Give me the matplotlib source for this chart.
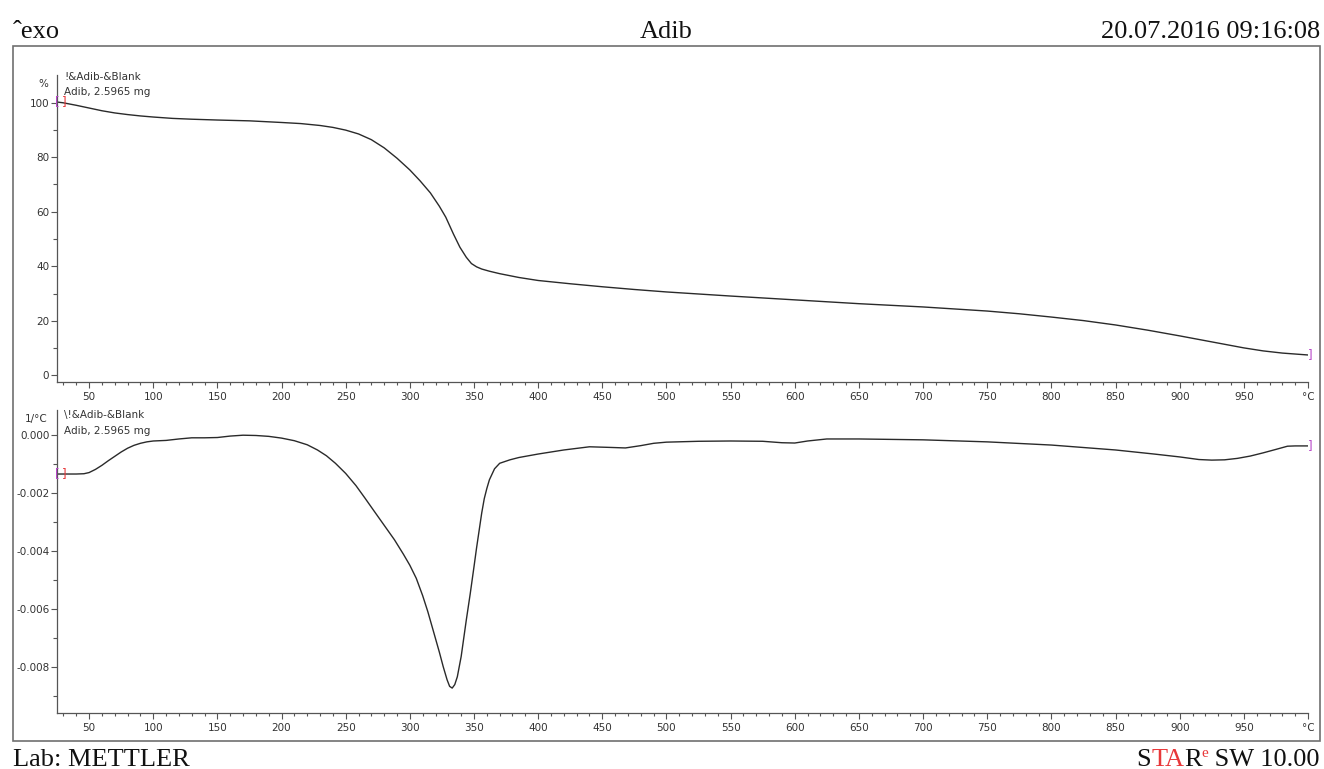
import matplotlib
matplotlib.use("Agg")
import matplotlib.pyplot as plt
from matplotlib.patches import Rectangle
from matplotlib.ticker import FixedLocator, FixedFormatter

# ---------------- data ----------------
tga_temp = [25, 30, 40, 50, 60, 70, 80, 90, 100, 115, 130, 150, 175, 200, 215, 230,
            240, 250, 260, 270, 280, 290, 300, 308, 316, 323, 328, 334, 339, 344,
            348, 352, 356, 362, 370, 385, 400, 425, 450, 475, 500, 550, 600, 650,
            700, 750, 775, 800, 825, 850, 875, 900, 925, 950, 965, 980, 1000]
tga_mass = [100.2, 99.9, 99.0, 98.0, 97.0, 96.2, 95.6, 95.1, 94.7, 94.2, 93.9, 93.6,
            93.3, 92.7, 92.3, 91.6, 90.9, 89.9, 88.5, 86.4, 83.4, 79.6, 75.3, 71.3,
            66.9, 62.0, 58.0, 51.8, 47.0, 43.3, 41.0, 39.8, 39.0, 38.2, 37.3, 35.9,
            34.8, 33.6, 32.5, 31.5, 30.6, 29.1, 27.7, 26.3, 25.1, 23.6, 22.6, 21.4,
            20.1, 18.5, 16.6, 14.5, 12.3, 10.1, 9.0, 8.2, 7.5]

dtg_temp = [25, 40, 46, 50, 55, 60, 65, 70, 75, 80, 85, 90, 95, 100, 110, 120, 130,
            140, 150, 160, 170, 180, 190, 200, 210, 220, 228, 235, 242, 250, 258,
            265, 272, 280, 288, 295, 300, 305, 310, 314, 318, 323, 326, 329, 331,
            333, 335, 337, 340, 344, 347, 350, 352, 354, 356, 358, 360, 362, 366,
            370, 378, 385, 400, 420, 440, 455, 468, 480, 490, 500, 525, 550, 575,
            590, 600, 610, 625, 650, 700, 750, 800, 850, 880, 900, 915, 925, 935,
            945, 955, 965, 975, 984, 990, 1000]
dtg_rate_milli = [-1.35, -1.35, -1.34, -1.30, -1.19, -1.05, -0.89, -0.74, -0.59, -0.46,
                  -0.36, -0.29, -0.24, -0.21, -0.19, -0.14, -0.10, -0.10, -0.09, -0.04,
                  -0.01, -0.02, -0.05, -0.11, -0.20, -0.34, -0.52, -0.72, -0.98, -1.33,
                  -1.75, -2.18, -2.62, -3.12, -3.62, -4.12, -4.50, -4.95, -5.55, -6.10,
                  -6.72, -7.50, -8.00, -8.45, -8.68, -8.74, -8.62, -8.35, -7.65, -6.39,
                  -5.50, -4.55, -3.90, -3.30, -2.70, -2.20, -1.85, -1.55, -1.17, -0.98,
                  -0.86, -0.78, -0.66, -0.52, -0.41, -0.43, -0.45, -0.37, -0.29, -0.25,
                  -0.22, -0.21, -0.22, -0.27, -0.28, -0.21, -0.14, -0.14, -0.17, -0.24,
                  -0.35, -0.52, -0.66, -0.76, -0.85, -0.87, -0.86, -0.81, -0.73, -0.62,
                  -0.50, -0.39, -0.38, -0.38]
dtg_rate = [v / 1000.0 for v in dtg_rate_milli]

x_major = list(range(50, 1001, 50))
x_labels = [str(v) for v in range(50, 1000, 50)] + ["°C"]
x_minor = [v for v in range(30, 1001, 10) if v % 50 != 0]

tga_major = [0, 20, 40, 60, 80, 100]
tga_labels = ["0", "20", "40", "60", "80", "100"]
tga_minor = [10, 30, 50, 70, 90]

dtg_major = [0.0, -0.002, -0.004, -0.006, -0.008]
dtg_labels = ["0.000", "-0.002", "-0.004", "-0.006", "-0.008"]
dtg_minor = [-0.001, -0.003, -0.005, -0.007, -0.009]

# ---------------- layout helpers ----------------
W, H = 1324, 769
def fx(px):
    return px / W
def fy(py):
    return 1 - py / H

fig = plt.figure(figsize=(W / 100, H / 100), dpi=100)
fig.patch.set_facecolor("white")

LINE = "#2a2a2a"
AXC = "#555555"
TXT = "#333333"
MAG = "#b848c8"
RED = "#e8383a"
SANS = "DejaVu Sans"
SERIF = "Liberation Serif"

# outer frame
fig.add_artist(Rectangle((fx(13), fy(741)), fx(1320) - fx(13), fy(46) - fy(741),
                         transform=fig.transFigure, fill=False, edgecolor="#707070", lw=1.2))

def style_axes(ax, ymaj, ylab, ymin):
    for s in ("top", "right"):
        ax.spines[s].set_visible(False)
    for s in ("left", "bottom"):
        ax.spines[s].set_color(AXC)
        ax.spines[s].set_linewidth(0.9)
    ax.set_xlim(25, 1000)
    ax.xaxis.set_major_locator(FixedLocator(x_major))
    ax.xaxis.set_major_formatter(FixedFormatter(x_labels))
    ax.xaxis.set_minor_locator(FixedLocator(x_minor))
    ax.yaxis.set_major_locator(FixedLocator(ymaj))
    ax.yaxis.set_major_formatter(FixedFormatter(ylab))
    ax.yaxis.set_minor_locator(FixedLocator(ymin))
    ax.tick_params(axis="x", which="major", direction="out", length=4.0, width=0.8,
                   color=AXC, labelsize=7.5, labelcolor=TXT, pad=3.5)
    ax.tick_params(axis="x", which="minor", direction="out", length=2.3, width=0.8, color=AXC)
    ax.tick_params(axis="y", which="major", direction="out", length=4.0, width=0.8,
                   color=AXC, labelsize=7.5, labelcolor=TXT, pad=1.5)
    ax.tick_params(axis="y", which="minor", direction="out", length=3.0, width=0.8, color=AXC)
    for lab in ax.get_xticklabels() + ax.get_yticklabels():
        lab.set_fontfamily(SANS)
    ax.set_facecolor("none")

# top panel (TGA)
ax1 = fig.add_axes([fx(57), fy(382), fx(1308) - fx(57), fy(75) - fy(382)])
ax1.plot(tga_temp, tga_mass, color=LINE, lw=1.0, solid_joinstyle="round",
         solid_capstyle="round", antialiased=True)
ax1.set_ylim(-2.4, 110.1)
style_axes(ax1, tga_major, tga_labels, tga_minor)

# bottom panel (DTG)
ax2 = fig.add_axes([fx(57), fy(713), fx(1308) - fx(57), fy(410) - fy(713)])
ax2.plot(dtg_temp, dtg_rate, color=LINE, lw=1.0, solid_joinstyle="round",
         solid_capstyle="round", antialiased=True)
ax2.set_ylim(-0.0096, 0.00086)
style_axes(ax2, dtg_major, dtg_labels, dtg_minor)

# start / end bracket markers
for ax, xs, ys in ((ax1, tga_temp, tga_mass), (ax2, dtg_temp, dtg_rate)):
    ax.text(xs[0], ys[0], "[", color=MAG, fontsize=8.5, ha="center", va="center",
            family=SANS, clip_on=False, zorder=5)
    ax.text(xs[0] + 5.8, ys[0], "]", color=RED, fontsize=8.5, ha="center", va="center",
            family=SANS, clip_on=False, zorder=5)
    ax.text(xs[-1] + 1.6, ys[-1], "]", color=MAG, fontsize=8.5, ha="center", va="center",
            family=SANS, clip_on=False, zorder=5)

# in-panel annotations
fig.text(fx(48), fy(84), "%", fontsize=7.5, color=TXT, ha="right", va="center", family=SANS)
fig.text(fx(64), fy(77), "!&Adib-&Blank", fontsize=7.5, color=TXT, ha="left", va="center", family=SANS)
fig.text(fx(64), fy(92), "Adib, 2.5965 mg", fontsize=7.5, color=TXT, ha="left", va="center", family=SANS)
fig.text(fx(48), fy(419), "1/°C", fontsize=7.5, color=TXT, ha="right", va="center", family=SANS)
fig.text(fx(64), fy(415), r"\!&Adib-&Blank", fontsize=7.5, color=TXT, ha="left", va="center", family=SANS)
fig.text(fx(64), fy(431), "Adib, 2.5965 mg", fontsize=7.5, color=TXT, ha="left", va="center", family=SANS)

# header
fig.text(fx(13), fy(38), "ˆexo", fontsize=19, color="#111111", ha="left", va="baseline", family=SERIF)
fig.text(fx(666), fy(38), "Adib", fontsize=19, color="#111111", ha="center", va="baseline", family=SERIF)
fig.text(fx(1320), fy(38), "20.07.2016 09:16:08", fontsize=19, color="#111111",
         ha="right", va="baseline", family=SERIF)

# footer
fig.text(fx(13), fy(766), "Lab: METTLER", fontsize=19, color="#111111", ha="left",
         va="baseline", family=SERIF)

fig.canvas.draw()
renderer = fig.canvas.get_renderer()
pieces = [("S", "#111111", 19, 0), ("TA", RED, 19, 0), ("R", "#111111", 19, 0),
          ("e", RED, 11, 9), (" SW 10.00", "#111111", 19, 0)]
total = 0
widths = []
for t, c, s, dy in pieces:
    tmp = fig.text(0, 0, t, fontsize=s, family=SERIF)
    bb = tmp.get_window_extent(renderer)
    widths.append(bb.width)
    total += bb.width
    tmp.remove()
xpos = 1320 - total
for (t, c, s, dy), w in zip(pieces, widths):
    fig.text(fx(xpos), fy(766 - dy), t, fontsize=s, color=c, ha="left", va="baseline", family=SERIF)
    xpos += w

fig.savefig("out.png", dpi=100, facecolor="white")
